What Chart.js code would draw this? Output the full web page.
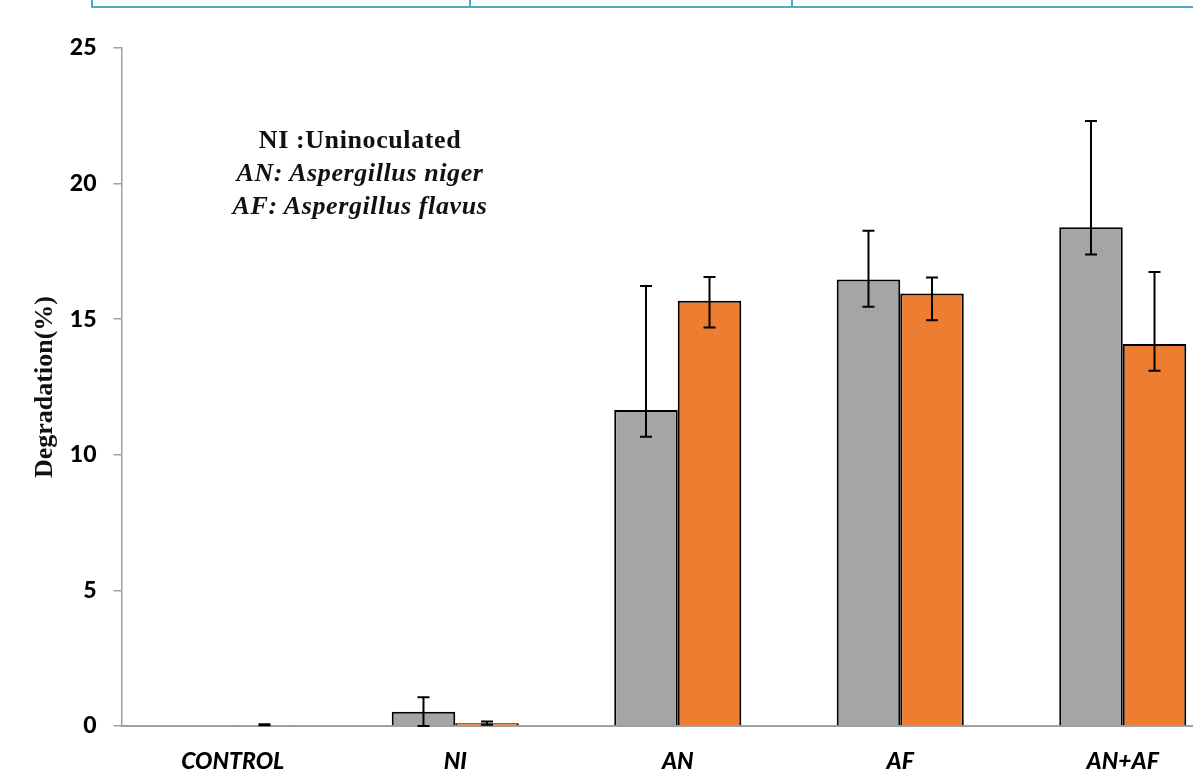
<!DOCTYPE html>
<html>
<head>
<meta charset="utf-8">
<script src="https://cdn.jsdelivr.net/npm/chart.js@4.4.1/dist/chart.umd.min.js"></script>
<style>
  html, body { margin: 0; padding: 0; background: #fff; overflow: hidden; }
  body { width: 1193px; height: 781px; position: relative; }
  #wrap { position: absolute; left: 0; top: 0; width: 1240px; height: 781px; }
  .tbl-h { position: absolute; left: 91px; right: 0; top: 6px; height: 2px; background: #4bacc6; }
  .tbl-v { position: absolute; top: 0; width: 2px; height: 8px; background: #4bacc6; }
  #note {
    position: absolute; left: 160px; top: 123px; width: 400px;
    text-align: center; font-family: "Liberation Serif", serif; font-weight: bold;
    font-size: 26px; line-height: 33px; color: #111; letter-spacing: 0.6px;
  }
  #note i { font-style: italic; }
</style>
</head>
<body>
<div class="tbl-h"></div>
<div class="tbl-v" style="left:91px"></div>
<div class="tbl-v" style="left:469px"></div>
<div class="tbl-v" style="left:791px"></div>
<div id="wrap"><canvas id="chart" width="1240" height="781"></canvas></div>
<div id="note">NI :Uninoculated<br><i>AN: Aspergillus niger</i><br><i>AF: Aspergillus flavus</i></div>
<script>
  // ── Data ────────────────────────────────────────────────────────────────────
  const CATEGORIES = ['CONTROL', 'NI', 'AN', 'AF', 'AN+AF'];
  const Y_TICKS = [0, 5, 10, 15, 20, 25];

  // grey series
  const GREY_VALUES = [0, 0.53, 11.65, 16.46, 18.39];
  const GREY_LOW    = [null, 0, 10.67, 15.46, 17.39];
  const GREY_HIGH   = [null, 1.06, 16.22, 18.26, 22.31];

  // orange series
  const ORANGE_VALUES = [0.04, 0.1, 15.68, 15.95, 14.09];
  const ORANGE_LOW    = [0.03, 0.05, 14.69, 14.96, 13.10];
  const ORANGE_HIGH   = [0.06, 0.17, 16.56, 16.54, 16.74];

  const AXIS_GREY = '#a0a0a0';
  const TICK_FONT = { family: 'Lato', weight: '900', size: 23 };

  // ── Error bars plugin ───────────────────────────────────────────────────────
  const errorBars = {
    id: 'errorBars',
    afterDatasetsDraw(chart) {
      const ctx = chart.ctx;
      const y = chart.scales.y;
      ctx.save();
      ctx.strokeStyle = '#000';
      ctx.lineWidth = 2;
      chart.data.datasets.forEach((ds, i) => {
        const meta = chart.getDatasetMeta(i);
        meta.data.forEach((bar, j) => {
          const lo = ds.errLow[j], hi = ds.errHigh[j];
          if (lo == null || hi == null) return;
          const yl = y.getPixelForValue(lo), yh = y.getPixelForValue(hi);
          ctx.beginPath();
          ctx.moveTo(bar.x, yl); ctx.lineTo(bar.x, yh);
          ctx.moveTo(bar.x - 6, yl); ctx.lineTo(bar.x + 6, yl);
          ctx.moveTo(bar.x - 6, yh); ctx.lineTo(bar.x + 6, yh);
          ctx.stroke();
        });
      });
      ctx.restore();
    }
  };

  // ── Chart ───────────────────────────────────────────────────────────────────
  new Chart(document.getElementById('chart'), {
    type: 'bar',
    data: {
      labels: CATEGORIES,
      datasets: [
        {
          data: GREY_VALUES, errLow: GREY_LOW, errHigh: GREY_HIGH,
          backgroundColor: '#a5a5a5', borderColor: '#000', borderWidth: 2,
        },
        {
          data: ORANGE_VALUES, errLow: ORANGE_LOW, errHigh: ORANGE_HIGH,
          backgroundColor: '#ed7d31', borderColor: '#000', borderWidth: 2,
        },
      ],
    },
    options: {
      responsive: false,
      animation: false,
      layout: { padding: { left: 0, right: 6, top: 48, bottom: 0 } },
      datasets: { bar: { categoryPercentage: 0.571, barPercentage: 1 } },
      plugins: { legend: { display: false }, tooltip: { enabled: false } },
      scales: {
        x: {
          grid: { display: false },
          border: { display: true, color: AXIS_GREY, width: 2 },
          ticks: { color: '#000', padding: 14, font: { ...TICK_FONT, style: 'italic' } },
          afterFit: s => { s.height = 55; },
        },
        y: {
          min: 0, max: 25,
          afterBuildTicks: s => { s.ticks = Y_TICKS.map(v => ({ value: v })); },
          grid: { drawOnChartArea: false, drawTicks: true, tickLength: 8, color: AXIS_GREY, lineWidth: 1.5 },
          border: { display: true, color: AXIS_GREY, width: 1.5 },
          ticks: { color: '#000', padding: 17, font: TICK_FONT },
          title: {
            display: true, text: 'Degradation(%)', color: '#111',
            font: { family: 'Liberation Serif', weight: 'bold', size: 26 },
            padding: { top: 30, bottom: 0 },
          },
          afterFit: s => { s.width = 121.5; },
        },
      },
    },
    plugins: [errorBars],
  });
</script>
</body>
</html>
